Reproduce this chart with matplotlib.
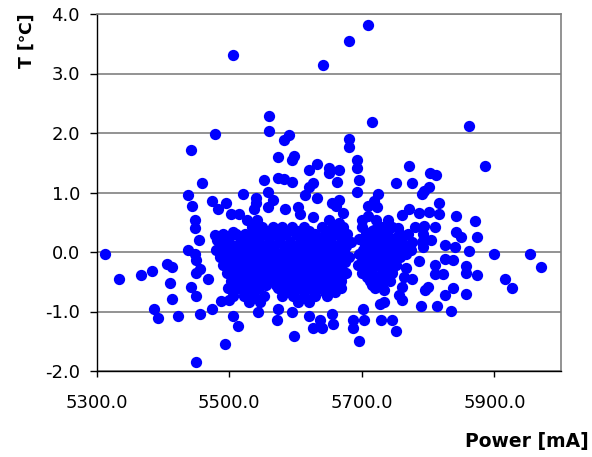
import numpy as np
import matplotlib
matplotlib.use("Agg")
import matplotlib.pyplot as plt

# Scattered readings around the main cloud (power in mA, temperature in degC)
power_outer = [5710, 5680, 5505, 5641, 5560, 5716, 5862, 5560, 5479, 5590, 5583,
               5680, 5680, 5443, 5574, 5597, 5594, 5692, 5692, 5886, 5771, 5633,
               5620, 5651, 5651, 5666, 5803, 5812, 5553, 5573, 5583, 5595, 5662,
               5695, 5752, 5776, 5459, 5627, 5620, 5802, 5794, 5791, 5692, 5437,
               5520, 5540, 5540, 5558, 5566, 5614, 5633, 5724, 5719, 5474, 5483,
               5444, 5495, 5655, 5666, 5661, 5817, 5558, 5584, 5604, 5606, 5537,
               5671, 5710, 5723, 5503, 5515, 5771, 5786, 5802, 5816, 5761, 5842,
               5449, 5449, 5527, 5542, 5627, 5651, 5665, 5700, 5709, 5721, 5740,
               5755, 5871, 5794, 5811, 5792, 5505, 5479, 5482, 5536, 5718, 5842,
               5849, 5874, 5455, 5805, 5792, 5695, 5704, 5825, 5840, 5862]
temp_outer = [3.82, 3.55, 3.31, 3.14, 2.29, 2.19, 2.12, 2.03, 1.99, 1.97, 1.89,
              1.90, 1.76, 1.72, 1.59, 1.62, 1.55, 1.55, 1.41, 1.44, 1.45, 1.48,
              1.37, 1.41, 1.33, 1.37, 1.33, 1.29, 1.21, 1.25, 1.22, 1.18, 1.18,
              1.21, 1.16, 1.16, 1.16, 1.16, 1.09, 1.09, 1.03, 0.97, 1.01, 0.95,
              0.98, 0.91, 0.83, 1.01, 0.88, 0.95, 0.91, 0.97, 0.86, 0.86, 0.72,
              0.77, 0.82, 0.83, 0.88, 0.77, 0.83, 0.75, 0.72, 0.75, 0.64, 0.72,
              0.66, 0.77, 0.75, 0.64, 0.64, 0.72, 0.66, 0.67, 0.64, 0.62, 0.60,
              0.53, 0.41, 0.53, 0.53, 0.59, 0.53, 0.49, 0.53, 0.60, 0.53, 0.53,
              0.40, 0.52, 0.43, 0.42, 0.31, 0.34, 0.28, 0.20, 0.29, 0.37, 0.34,
              0.25, 0.25, 0.20, 0.20, 0.08, 0.22, 0.17, 0.11, 0.08, 0.02]

power_low = [5437, 5448, 5450, 5456, 5450, 5312, 5899, 5954, 5970, 5334, 5367,
             5383, 5406, 5414, 5410, 5468, 5443, 5450, 5413, 5386, 5392, 5422,
             5456, 5474, 5488, 5500, 5505, 5513, 5494, 5450, 5544, 5572, 5574,
             5595, 5598, 5620, 5627, 5640, 5637, 5655, 5657, 5686, 5686, 5704,
             5695, 5702, 5729, 5745, 5751, 5728, 5734, 5789, 5813, 5834, 5825,
             5838, 5857, 5796, 5800, 5761, 5756, 5776, 5767, 5786, 5811, 5810,
             5822, 5826, 5838, 5857, 5857, 5874, 5916, 5926, 5734, 5761, 5763]
temp_low = [0.03, -0.04, -0.13, -0.28, -0.35, -0.04, -0.04, -0.04, -0.25, -0.45, -0.39,
            -0.32, -0.21, -0.25, -0.52, -0.45, -0.59, -0.74, -0.79, -0.95, -1.11, -1.08,
            -1.04, -0.96, -0.83, -0.81, -1.08, -1.25, -1.55, -1.85, -1.01, -1.15, -0.96,
            -1.01, -1.41, -1.07, -1.28, -1.28, -1.14, -1.04, -1.21, -1.14, -1.28, -1.15,
            -1.49, -0.95, -1.15, -1.15, -1.32, -0.88, -0.84, -0.91, -0.91, -0.99, -0.72,
            -0.61, -0.71, -0.64, -0.59, -0.81, -0.72, -0.45, -0.27, -0.15, -0.22, -0.37,
            -0.37, -0.11, -0.14, -0.23, -0.35, -0.38, -0.45, -0.61, -0.64, -0.59, -0.42]

# Dense core of the cloud, one list of powers per temperature band
core_temps = [0.42, 0.30, 0.17, 0.04, -0.09, -0.22, -0.35, -0.48, -0.61, -0.74, -0.84,
              0.36, 0.23, 0.10, -0.03, -0.16, -0.29, -0.42, -0.55, -0.68]
core_powers = [
    [5535, 5550, 5566, 5580, 5594, 5612, 5640, 5656, 5672, 5700, 5730, 5745, 5780],
    [5490, 5510, 5524, 5552, 5568, 5585, 5600, 5616, 5630, 5645, 5662, 5678, 5706,
     5722, 5738, 5758, 5770],
    [5484, 5498, 5516, 5530, 5545, 5560, 5575, 5592, 5607, 5622, 5636, 5652, 5668,
     5684, 5712, 5728, 5744, 5760, 5775, 5790],
    [5480, 5495, 5508, 5522, 5538, 5553, 5568, 5583, 5598, 5613, 5628, 5643, 5658,
     5673, 5702, 5716, 5731, 5746, 5760, 5774],
    [5486, 5502, 5516, 5531, 5546, 5561, 5576, 5591, 5606, 5621, 5636, 5651, 5666,
     5681, 5700, 5714, 5729, 5744, 5758],
    [5490, 5505, 5520, 5534, 5549, 5564, 5579, 5594, 5609, 5624, 5639, 5654, 5669,
     5694, 5709, 5724, 5739, 5752],
    [5496, 5511, 5526, 5541, 5556, 5571, 5586, 5601, 5616, 5631, 5646, 5661, 5676,
     5700, 5716, 5730, 5745],
    [5503, 5518, 5533, 5548, 5563, 5578, 5593, 5608, 5623, 5638, 5653, 5668, 5712,
     5726, 5742],
    [5498, 5514, 5530, 5545, 5574, 5590, 5605, 5620, 5636, 5652, 5668, 5720],
    [5505, 5522, 5537, 5552, 5580, 5596, 5612, 5630, 5648],
    [5530, 5546, 5604, 5620],
    [5543, 5558, 5574, 5603, 5620, 5648, 5664, 5716, 5738],
    [5500, 5517, 5538, 5560, 5577, 5608, 5624, 5638, 5654, 5670, 5714, 5730, 5750],
    [5491, 5507, 5523, 5538, 5552, 5568, 5584, 5600, 5615, 5629, 5644, 5660, 5676,
     5706, 5720, 5736, 5752, 5768],
    [5488, 5502, 5515, 5530, 5545, 5560, 5575, 5590, 5605, 5620, 5635, 5650, 5665,
     5695, 5709, 5724, 5738, 5753, 5767],
    [5494, 5509, 5524, 5539, 5554, 5569, 5584, 5599, 5614, 5629, 5644, 5659, 5674,
     5707, 5722, 5736, 5750],
    [5498, 5513, 5527, 5542, 5557, 5572, 5587, 5602, 5617, 5632, 5647, 5662, 5702,
     5716, 5732, 5746],
    [5504, 5519, 5534, 5549, 5564, 5579, 5594, 5609, 5624, 5639, 5654, 5669, 5708,
     5722, 5736],
    [5510, 5526, 5541, 5556, 5571, 5586, 5601, 5616, 5631, 5646, 5661, 5716, 5730],
    [5506, 5522, 5538, 5582, 5598, 5613, 5628, 5644, 5660],
]

power = list(power_outer) + list(power_low)
temp = list(temp_outer) + list(temp_low)
for t, row in zip(core_temps, core_powers):
    power += row
    temp += [t] * len(row)

plt.rcParams['font.family'] = ['DejaVu Sans']

fig = plt.figure(figsize=(5.92, 4.57), dpi=100)
ax = fig.add_axes([96.7 / 592, 86 / 457, 464 / 592, 357 / 457])

ax.scatter(power, temp, s=66, color='#0000ff', linewidths=0, zorder=3)

ax.set_xlim(5300, 6000)
ax.set_ylim(-2.0, 4.0)
ax.set_xticks(np.arange(5300, 6000, 200))
ax.set_yticks(np.arange(-2.0, 4.01, 1.0))
ax.set_xticklabels([f"{v:.1f}" for v in np.arange(5300, 6000, 200)])
ax.set_yticklabels([f"{v:.1f}" for v in np.arange(-2.0, 4.01, 1.0)])

ax.yaxis.grid(True, color='#808080', linewidth=1.2, zorder=0)
ax.set_axisbelow(True)
ax.tick_params(axis='x', direction='out', length=4.5, width=1, pad=12, labelsize=13)
ax.tick_params(axis='y', direction='out', length=5, width=1, pad=7, labelsize=13)

for side in ('top', 'right'):
    ax.spines[side].set_color('#808080')
    ax.spines[side].set_linewidth(1.2)
for side in ('left', 'bottom'):
    ax.spines[side].set_color('#000000')
    ax.spines[side].set_linewidth(1)

fig.text(589 / 592, 1 - 441 / 457, 'Power [mA]', ha='right', va='center',
         fontsize=13.5, fontweight='bold')
fig.text(27 / 592, 1 - 13 / 457, 'T [℃]', ha='center', va='top', rotation=90,
         fontsize=12.5, fontweight='bold')

fig.savefig('out.png', dpi=100)
